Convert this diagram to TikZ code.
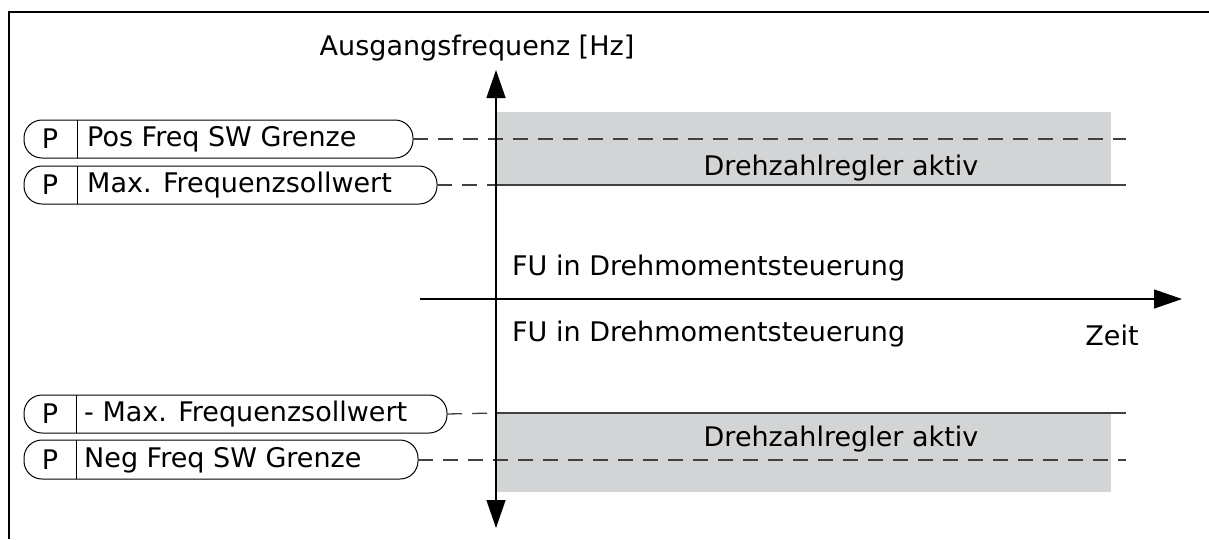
\documentclass[tikz,border=0pt]{standalone}
\usepackage{fontspec}
\setmainfont{DejaVu Sans}
\usetikzlibrary{arrows.meta}
\definecolor{band}{HTML}{D3D4D6}
\definecolor{ln}{HTML}{404040}
\tikzset{
  pillbox/.style={line width=1pt, rounded corners=18pt},
  lbl/.style={font=\fontsize{27}{32}\selectfont, inner sep=0pt},
  dsh/.style={ln, line width=1.3pt, dash pattern=on 15pt off 10pt},
  sol/.style={ln, line width=1.6pt},
  ax/.style={line width=1.3pt, -{Triangle[length=28pt,width=19pt]}}
}
\begin{document}
\begin{tikzpicture}[x=1pt,y=-1pt]
\useasboundingbox (0,0) rectangle (1209,539);
% frame
\draw[line width=1.5pt] (9,539) -- (9,12) -- (1209,12);
% bands
\fill[band] (496,112) rectangle (1111,186);
\fill[band] (496,413) rectangle (1111,492);
% pills
\draw[pillbox] (24,120) rectangle (413,158);
\node[lbl] (p1) at (50,139) {P};
\draw[line width=1pt] (77,120) -- (77,158);
\node[lbl, anchor=west] (t1) at (87,139) {Pos Freq SW Grenze};
\coordinate (e1) at (413,139);

\draw[pillbox] (24,166) rectangle (437,204);
\node[lbl] (p2) at (50,185) {P};
\draw[line width=1pt] (77,166) -- (77,204);
\node[lbl, anchor=west] (t2) at (87,185) {Max. Frequenzsollwert};
\coordinate (e2) at (437,185);

\draw[pillbox] (24,395) rectangle (447,433);
\node[lbl] (p3) at (50,414) {P};
\draw[line width=1pt] (76,395) -- (76,433);
\node[lbl, anchor=west] (t3) at (84,414) {- Max. Frequenzsollwert};
\coordinate (e3) at (447,414);

\draw[pillbox] (24,440) rectangle (418,479);
\node[lbl] (p4) at (50,460) {P};
\draw[line width=1pt] (76,440) -- (76,479);
\node[lbl, anchor=west] (t4) at (84,460) {Neg Freq SW Grenze};
\coordinate (e4) at (418,460);

% level lines
\coordinate (r1) at (1126,139);
\coordinate (r2) at (1126,185);
\coordinate (r3) at (1126,413);
\coordinate (r4) at (1126,460);
\coordinate (a2) at (496,185);
\coordinate (a3) at (496,413);
\draw[dsh] (e1) -- (r1);
\draw[dsh] (e2) -- (a2);
\draw[sol] (a2) -- (r2);
\draw[dsh] (e3) -- (a3);
\draw[sol] (a3) -- (r3);
\draw[dsh] (e4) -- (r4);

% axes
\coordinate (vb) at (496,299);
\coordinate (vt) at (496,70);
\coordinate (vd) at (496,528);
\coordinate (hl) at (420,299);
\coordinate (hr) at (1182,299);
\draw[ax] (vb) -- (vt);
\draw[ax] (vb) -- (vd);
\draw[ax] (hl) -- (hr);

% texts
\node[lbl] (yl) at (477,48) {Ausgangsfrequenz [Hz]};
\node[lbl] (d1) at (841,168) {Drehzahlregler aktiv};
\node[lbl] (d2) at (841,439) {Drehzahlregler aktiv};
\node[lbl, anchor=west] (f1) at (512,268) {FU in Drehmomentsteuerung};
\node[lbl, anchor=west] (f2) at (512,334) {FU in Drehmomentsteuerung};
\node[lbl] (z) at (1112,335) {Zeit};
\end{tikzpicture}
\end{document}
